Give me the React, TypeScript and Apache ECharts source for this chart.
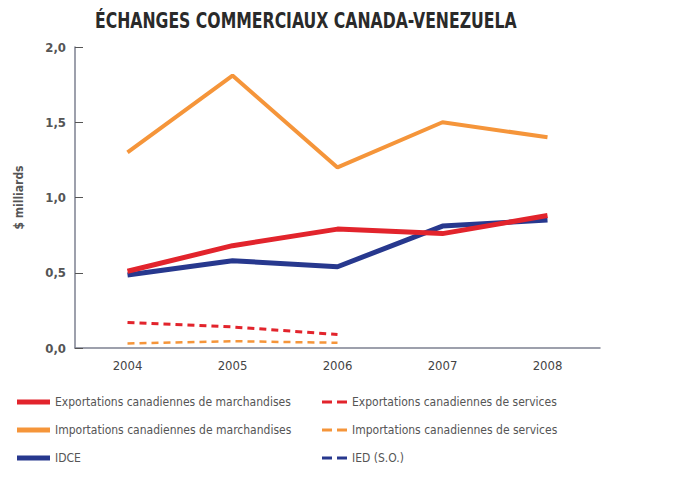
import React, { useEffect, useRef } from "react";
import * as echarts from "echarts";

const years = ["2004", "2005", "2006", "2007", "2008"];
const exportsMerch = [0.51, 0.68, 0.79, 0.76, 0.88];
const importsMerch = [1.3, 1.81, 1.2, 1.5, 1.4];
const idce = [0.485, 0.58, 0.54, 0.81, 0.85];
const exportsServ = [0.17, 0.14, 0.09];
const importsServ = [0.03, 0.045, 0.035];
const ied: number[] = [];

const RED = "#e2242c";
const ORANGE = "#f5953a";
const BLUE = "#27388e";
const FONT = "'DejaVu Sans Condensed', 'DejaVu Sans', sans-serif";
const SOLID_ICON = "path://M0,0h33v5h-33z";
const DASH_ICON = "path://M0,0h10v3h-10zM15,0h10v3h-10z";

export default function App() {
  const ref = useRef<HTMLDivElement>(null);
  useEffect(() => {
    if (!ref.current) return;
    const chart = echarts.init(ref.current, null, { renderer: "svg" });
    const mk = (name: string, data: number[], color: string, width: number, dashed: boolean) => ({
      name,
      type: "line",
      data,
      symbol: "none",
      showSymbol: false,
      itemStyle: { color },
      lineStyle: { color, width, type: dashed ? [7, 5] : "solid" },
    });
    const legendText = { fontFamily: FONT, fontSize: 12, color: "#555" };
    chart.setOption({
      animation: false,
      backgroundColor: "#ffffff",
      graphic: [
        {
          type: "text",
          x: 95,
          y: 10,
          scaleX: 0.83,
          style: {
            text: "ÉCHANGES COMMERCIAUX CANADA-VENEZUELA",
            font: "bold 21px 'DejaVu Sans Condensed', 'DejaVu Sans', sans-serif",
            fill: "#2a2a2a",
          },
        },
      ],
      grid: { left: 75, right: 75, top: 47, bottom: 136 },
      legend: [
        {
          left: 12,
          top: 391,
          orient: "vertical",
          itemGap: 16,
          itemWidth: 33,
          itemHeight: 5,
          textStyle: legendText,
          data: [
            { name: "Exportations canadiennes de marchandises", icon: SOLID_ICON },
            { name: "Importations canadiennes de marchandises", icon: SOLID_ICON },
            { name: "IDCE", icon: SOLID_ICON },
          ],
        },
        {
          left: 317,
          top: 391,
          orient: "vertical",
          itemGap: 16,
          itemWidth: 25,
          itemHeight: 3,
          textStyle: legendText,
          data: [
            { name: "Exportations canadiennes de services", icon: DASH_ICON },
            { name: "Importations canadiennes de services", icon: DASH_ICON },
            { name: "IED (S.O.)", icon: DASH_ICON },
          ],
        },
      ],
      xAxis: {
        type: "category",
        data: years,
        boundaryGap: true,
        axisLine: { lineStyle: { color: "#7d8191", width: 1.5 } },
        axisTick: { inside: true, length: 4, alignWithLabel: true, lineStyle: { color: "#555" } },
        axisLabel: { fontFamily: FONT, fontSize: 13, color: "#444", margin: 11 },
      },
      yAxis: {
        type: "value",
        min: 0,
        max: 2,
        interval: 0.5,
        name: "$ milliards",
        nameLocation: "middle",
        nameGap: 50,
        nameTextStyle: { fontFamily: FONT, fontSize: 12, color: "#555", fontWeight: "bold" },
        splitLine: { show: false },
        axisLine: { show: true, lineStyle: { color: "#7d8191", width: 1.5 } },
        axisTick: { show: true, inside: true, length: 8, lineStyle: { color: "#555" } },
        axisLabel: {
          fontFamily: FONT,
          fontSize: 13,
          color: "#555",
          fontWeight: "bold",
          margin: 9,
          formatter: (v: number) => v.toFixed(1).replace(".", ","),
        },
      },
      series: [
        mk("Exportations canadiennes de services", exportsServ, RED, 3, true),
        mk("Importations canadiennes de services", importsServ, ORANGE, 2.5, true),
        mk("IED (S.O.)", ied, BLUE, 2.5, true),
        mk("Importations canadiennes de marchandises", importsMerch, ORANGE, 4, false),
        mk("IDCE", idce, BLUE, 5, false),
        mk("Exportations canadiennes de marchandises", exportsMerch, RED, 5, false),
      ],
    });
    return () => chart.dispose();
  }, []);
  return <div ref={ref} style={{ width: 675, height: 484, position: "absolute", left: 0, top: 0 }} />;
}
